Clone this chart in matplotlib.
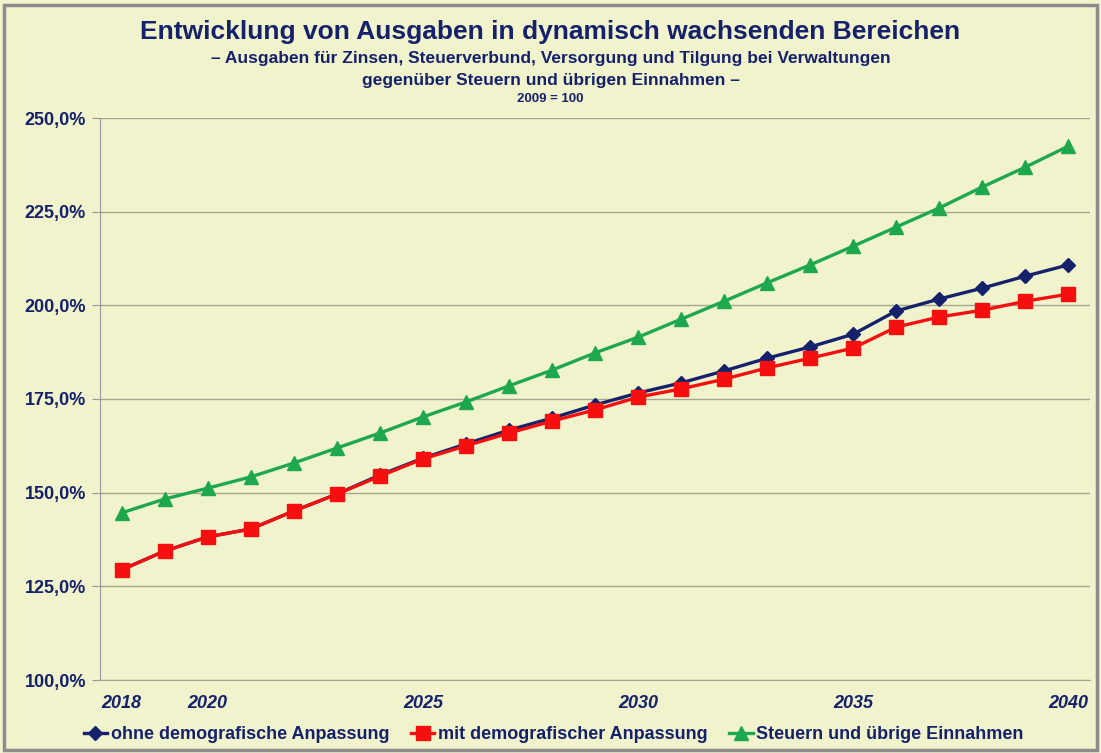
import matplotlib
matplotlib.use('Agg')
import matplotlib.pyplot as plt
from matplotlib.patches import Rectangle

plt.rcParams['font.family'] = ['Liberation Sans', 'DejaVu Sans']

# values (index 2009 = 100)
years = list(range(2018, 2041))
ohne = [129.4, 134.4, 138.2, 140.3, 145.1, 149.6, 154.7, 159.2, 163.0, 166.7, 169.9,
        173.4, 176.6, 179.3, 182.5, 185.9, 188.9, 192.3, 198.5, 201.7, 204.6, 207.8, 210.8]
mit = [129.4, 134.4, 138.2, 140.3, 145.1, 149.6, 154.4, 159.0, 162.5, 165.9, 169.1,
       172.1, 175.5, 177.7, 180.3, 183.3, 185.9, 188.6, 194.2, 196.9, 198.7, 201.1, 203.0]
steuern = [144.6, 148.3, 151.2, 154.2, 157.9, 161.9, 165.9, 170.2, 174.2, 178.5, 182.7,
           187.3, 191.5, 196.3, 201.1, 206.0, 210.8, 215.8, 220.9, 226.0, 231.6, 236.9, 242.5]
x_labels = [2018, 2020, 2025, 2030, 2035, 2040]
y_ticks = [100, 125, 150, 175, 200, 225, 250]

bg = '#F1F3CD'
navy = '#15216B'

fig = plt.figure(figsize=(11.01, 7.53), dpi=100, facecolor=bg)
ax = fig.add_axes([100 / 1101, 73 / 753, 990 / 1101, 562 / 753], facecolor=bg)

ax.plot(years, ohne, color=navy, lw=2.4, marker='D', ms=7, label='ohne demografische Anpassung')
ax.plot(years, mit, color='#F50F0F', lw=2.4, marker='s', ms=10.5, label='mit demografischer Anpassung')
ax.plot(years, steuern, color='#1EA84E', lw=2.4, marker='^', ms=10, label='Steuern und übrige Einnahmen')

ax.set_xlim(2017.5, 2040.5)
ax.set_ylim(100, 250)
ax.set_yticks(y_ticks)
ax.set_yticklabels([f'{v:.1f}%'.replace('.', ',') for v in y_ticks],
                   fontsize=13, fontweight='bold', color=navy)
ax.set_xticks(x_labels)
ax.set_xticklabels([str(v) for v in x_labels], fontsize=13, fontweight='bold',
                   fontstyle='italic', color=navy)
ax.tick_params(axis='x', length=0, pad=11)
ax.tick_params(axis='y', length=6, color='#999999', pad=4)
ax.grid(axis='y', color='#A6A68F', lw=1)
ax.set_axisbelow(True)
for s in ['top', 'right']:
    ax.spines[s].set_visible(False)
ax.spines['left'].set_color('#999999')
ax.spines['bottom'].set_color('#A6A68F')

fig.text(0.5, 0.958, 'Entwicklung von Ausgaben in dynamisch wachsenden Bereichen',
         ha='center', va='center', fontsize=19, fontweight='bold', color=navy)
fig.text(0.5, 0.922, '– Ausgaben für Zinsen, Steuerverbund, Versorgung und Tilgung bei Verwaltungen',
         ha='center', va='center', fontsize=12.5, fontweight='bold', color=navy)
fig.text(0.5, 0.893, 'gegenüber Steuern und übrigen Einnahmen –',
         ha='center', va='center', fontsize=12.5, fontweight='bold', color=navy)
fig.text(0.5, 0.868, '2009 = 100', ha='center', va='center', fontsize=9.5,
         fontweight='bold', color=navy)

leg = fig.legend(loc='center', bbox_to_anchor=(0.503, 0.024), ncol=3, frameon=False,
                 handlelength=1.3, handletextpad=0.2, columnspacing=1.2,
                 prop={'size': 13, 'weight': 'bold'})
for t in leg.get_texts():
    t.set_color(navy)

fig.patches.append(Rectangle((0.004, 0.004), 0.992, 0.99, transform=fig.transFigure,
                             fill=False, edgecolor='#8C8C8C', lw=2.5))

fig.savefig('out.png', dpi=100, facecolor=bg)
